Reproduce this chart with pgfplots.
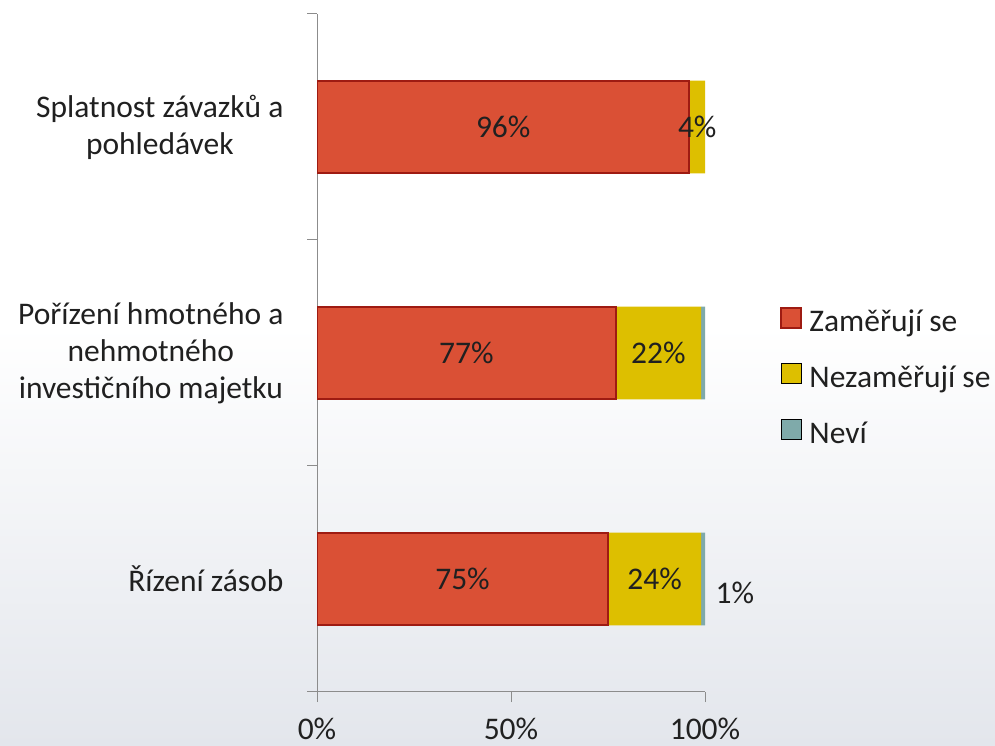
\documentclass[border=0pt]{standalone}
\usepackage{pgfplots}
\pgfplotsset{compat=1.18}
\usepackage{fontspec}
\setmainfont{Carlito}
\definecolor{zred}{HTML}{DA5035}
\definecolor{zborder}{HTML}{9E1B12}
\definecolor{zyel}{HTML}{DDBF00}
\definecolor{zteal}{HTML}{7FAAAA}
\definecolor{axgray}{HTML}{8C8C8C}
\definecolor{txt}{HTML}{202020}
\definecolor{bgbot}{HTML}{E3E6EC}
\newcommand{\bigfont}{\fontsize{31.5bp}{37bp}\selectfont}
\pgfplotsset{
  sqlegend/.style={legend image code/.code={\draw[##1] (0bp,-6bp) rectangle (20bp,14bp); \path (25bp,0bp);}},
}
\pgfplotstableread{
x     y    v
48    2    96
98    2    4
38.5  1    77
88    1    22
37.5  0    75
87    0    24
107.7 -0.06 1
}\labeldata
\begin{document}
\begin{tikzpicture}
\path[use as bounding box] (0bp,0bp) rectangle (995bp,746bp);
\fill[white] (0bp,0bp) rectangle (995bp,746bp);
\shade[top color=white, bottom color=bgbot] (0bp,0bp) rectangle (995bp,420bp);
\begin{axis}[
  at={(317bp,54bp)}, anchor=south west, scale only axis,
  width=388bp, height=678bp,
  xbar stacked, bar width=0.41,
  xmin=0, xmax=100, ymin=-0.5, ymax=2.5,
  axis x line*=bottom, axis y line*=left,
  axis line style={axgray, line width=1bp},
  tick align=outside, major tick length=10bp,
  tick style={axgray, line width=1bp},
  xtick={0,50,100},
  xticklabel={\pgfmathprintnumber[assume math mode=true]{\tick}\%},
  ytick={-0.5,0.5,1.5,2.5}, yticklabels={},
  extra y ticks={0,1,2},
  extra y tick labels={{Řízení zásob},{Pořízení hmotného a\\nehmotného\\investičního majetku},{Splatnost závazků a\\pohledávek}},
  extra tick style={major tick length=0pt, yticklabel style={xshift=-30bp}},
  yticklabel style={align=center},
  every tick label/.append style={font=\bigfont, text=txt},
  xticklabel style={yshift=-12bp},
  legend style={at={(1.194,0.465)}, anchor=west, draw=none, fill=none,
    font=\bigfont, text=txt, row sep=28bp, inner xsep=0pt},
  legend cell align=left,
]
\addplot[fill=zred, draw=zborder, line width=2bp, sqlegend]
  coordinates {(75,0) (77,1) (96,2)};
\addplot[fill=zyel, draw=none, sqlegend]
  coordinates {(24,0) (22,1) (4,2)};
\addplot[fill=zteal, draw=none, sqlegend]
  coordinates {(1,0) (1,1) (0,2)};
\legend{Zaměřují se, Nezaměřují se, Neví}
\end{axis}
\begin{axis}[
  at={(317bp,54bp)}, anchor=south west, scale only axis,
  width=388bp, height=678bp,
  xmin=0, xmax=100, ymin=-0.5, ymax=2.5,
  hide axis, clip=false,
]
\addplot[draw=none, mark=none, nodes near coords={\pgfmathprintnumber[assume math mode=true]{\pgfplotspointmeta}\%},
  point meta=\thisrow{v},
  every node near coord/.append style={anchor=center, font=\bigfont, text=txt}]
  table[x=x, y=y] {\labeldata};
\end{axis}
\end{tikzpicture}
\end{document}
